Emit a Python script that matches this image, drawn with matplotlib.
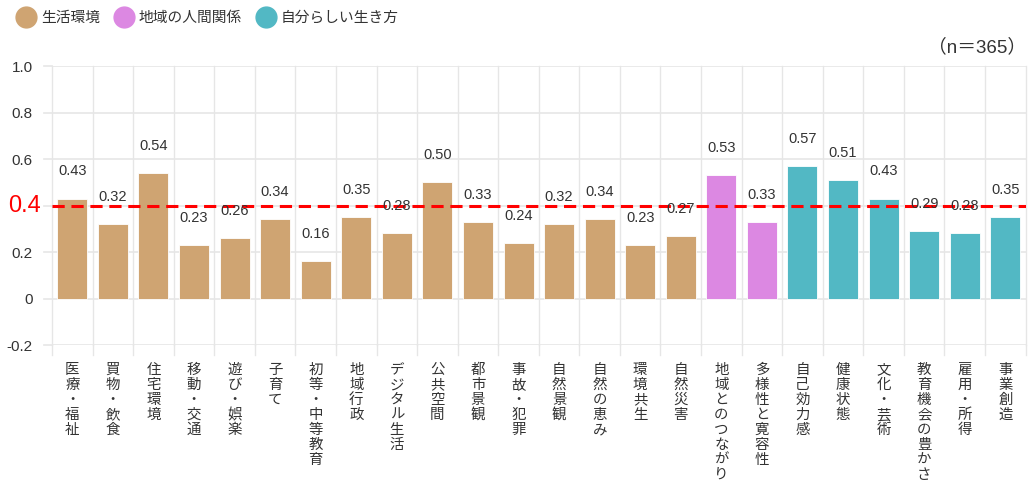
import matplotlib
matplotlib.use("Agg")
import matplotlib.pyplot as plt
from matplotlib.lines import Line2D
import numpy as np

categories = ["医療・福祉", "買物・飲食", "住宅環境", "移動・交通", "遊び・娯楽", "子育て",
              "初等・中等教育", "地域行政", "デジタル生活", "公共空間", "都市景観", "事故・犯罪",
              "自然景観", "自然の恵み", "環境共生", "自然災害", "地域とのつながり", "多様性と寛容性",
              "自己効力感", "健康状態", "文化・芸術", "教育機会の豊かさ", "雇用・所得", "事業創造"]
values = [0.43, 0.32, 0.54, 0.23, 0.26, 0.34, 0.16, 0.35, 0.28, 0.50, 0.33, 0.24,
          0.32, 0.34, 0.23, 0.27, 0.53, 0.33, 0.57, 0.51, 0.43, 0.29, 0.28, 0.35]
groups = ["生活環境"] * 16 + ["地域の人間関係"] * 2 + ["自分らしい生き方"] * 6
group_names = ["生活環境", "地域の人間関係", "自分らしい生き方"]
group_colors = {"生活環境": "#CFA472", "地域の人間関係": "#DC88E2", "自分らしい生き方": "#52B8C4"}
threshold = 0.4
yticks = [-0.2, 0, 0.2, 0.4, 0.6, 0.8, 1.0]
ytick_labels = ["-0.2", "0", "0.2", "", "0.6", "0.8", "1.0"]
n_note = "（n＝365）"

LAT = ["Liberation Sans", "Noto Sans CJK JP"]
JP = ["Noto Sans CJK JP", "DejaVu Sans"]
TXT = "#333333"

W, H = 1028, 486
fig = plt.figure(figsize=(W / 100, H / 100), dpi=100)
ax = fig.add_axes([52 / W, 1 - 345 / H, (1025.6 - 52) / W, (345 - 66) / H])

n = len(categories)
x = np.arange(n)
colors = [group_colors[g] for g in groups]
ax.bar(x, values, width=0.74, color=colors, edgecolor="white", linewidth=0.6, zorder=3)

ax.set_xlim(-0.5, n - 0.5)
ax.set_ylim(-0.2, 1.0)

# grid
for b in np.arange(-0.5, n, 1.0):
    ax.plot([b, b], [-0.2, 1.0], color="#E6E6E6", lw=1, zorder=1, clip_on=False)
    ax.plot([b, b], [-0.2, -0.245], color="#E6E6E6", lw=1, zorder=1, clip_on=False)
for t in yticks:
    ax.axhline(t, color="#E6E6E6", lw=1.2, zorder=1)
    ax.plot([-0.7, -0.5], [t, t], color="#E6E6E6", lw=1.2, clip_on=False, zorder=1)

ax.set_yticks(yticks)
ax.set_yticklabels(ytick_labels)
ax.tick_params(axis="y", length=0, pad=14, labelsize=11, labelcolor=TXT)
for lbl in ax.get_yticklabels():
    lbl.set_fontfamily(LAT)
ax.set_xticks([])
for s in ax.spines.values():
    s.set_visible(False)

# red threshold line and label
ax.axhline(threshold, color="#FF0000", lw=2.2, ls=(0, (4, 2.2)), zorder=4)
ax.text(-0.78, threshold, "0.4", color="#FF0000", fontsize=17, ha="right", va="center",
        family=LAT, transform=ax.transData)

# value labels
for xi, v in zip(x, values):
    ax.annotate(f"{v:.2f}", (xi, v), xytext=(0, 19.5), textcoords="offset points",
                ha="center", va="center", fontsize=10.5, color=TXT, family=LAT, zorder=5)

# vertical category labels
for xi, c in zip(x, categories):
    ax.annotate("\n".join(c), (xi, -0.2), xytext=(0, -13), textcoords="offset points",
                ha="center", va="top", fontsize=10.4, color=TXT, family=JP,
                linespacing=1.09, annotation_clip=False)

# legend
handles = [Line2D([0], [0], marker="o", ls="", markersize=15, markerfacecolor=group_colors[g],
                  markeredgecolor=group_colors[g]) for g in group_names]
fig.legend(handles, group_names, loc="upper left", bbox_to_anchor=(0.001, 1.005), ncol=3,
           frameon=False, prop={"family": JP, "size": 10.6}, handletextpad=0.2,
           columnspacing=0.85, handlelength=1.6, labelcolor=TXT)

fig.text(1026 / W, 1 - 47 / H, n_note, ha="right", va="center", fontsize=13.5,
         color=TXT, family=LAT)

fig.savefig("out.png", dpi=100, facecolor="white")
